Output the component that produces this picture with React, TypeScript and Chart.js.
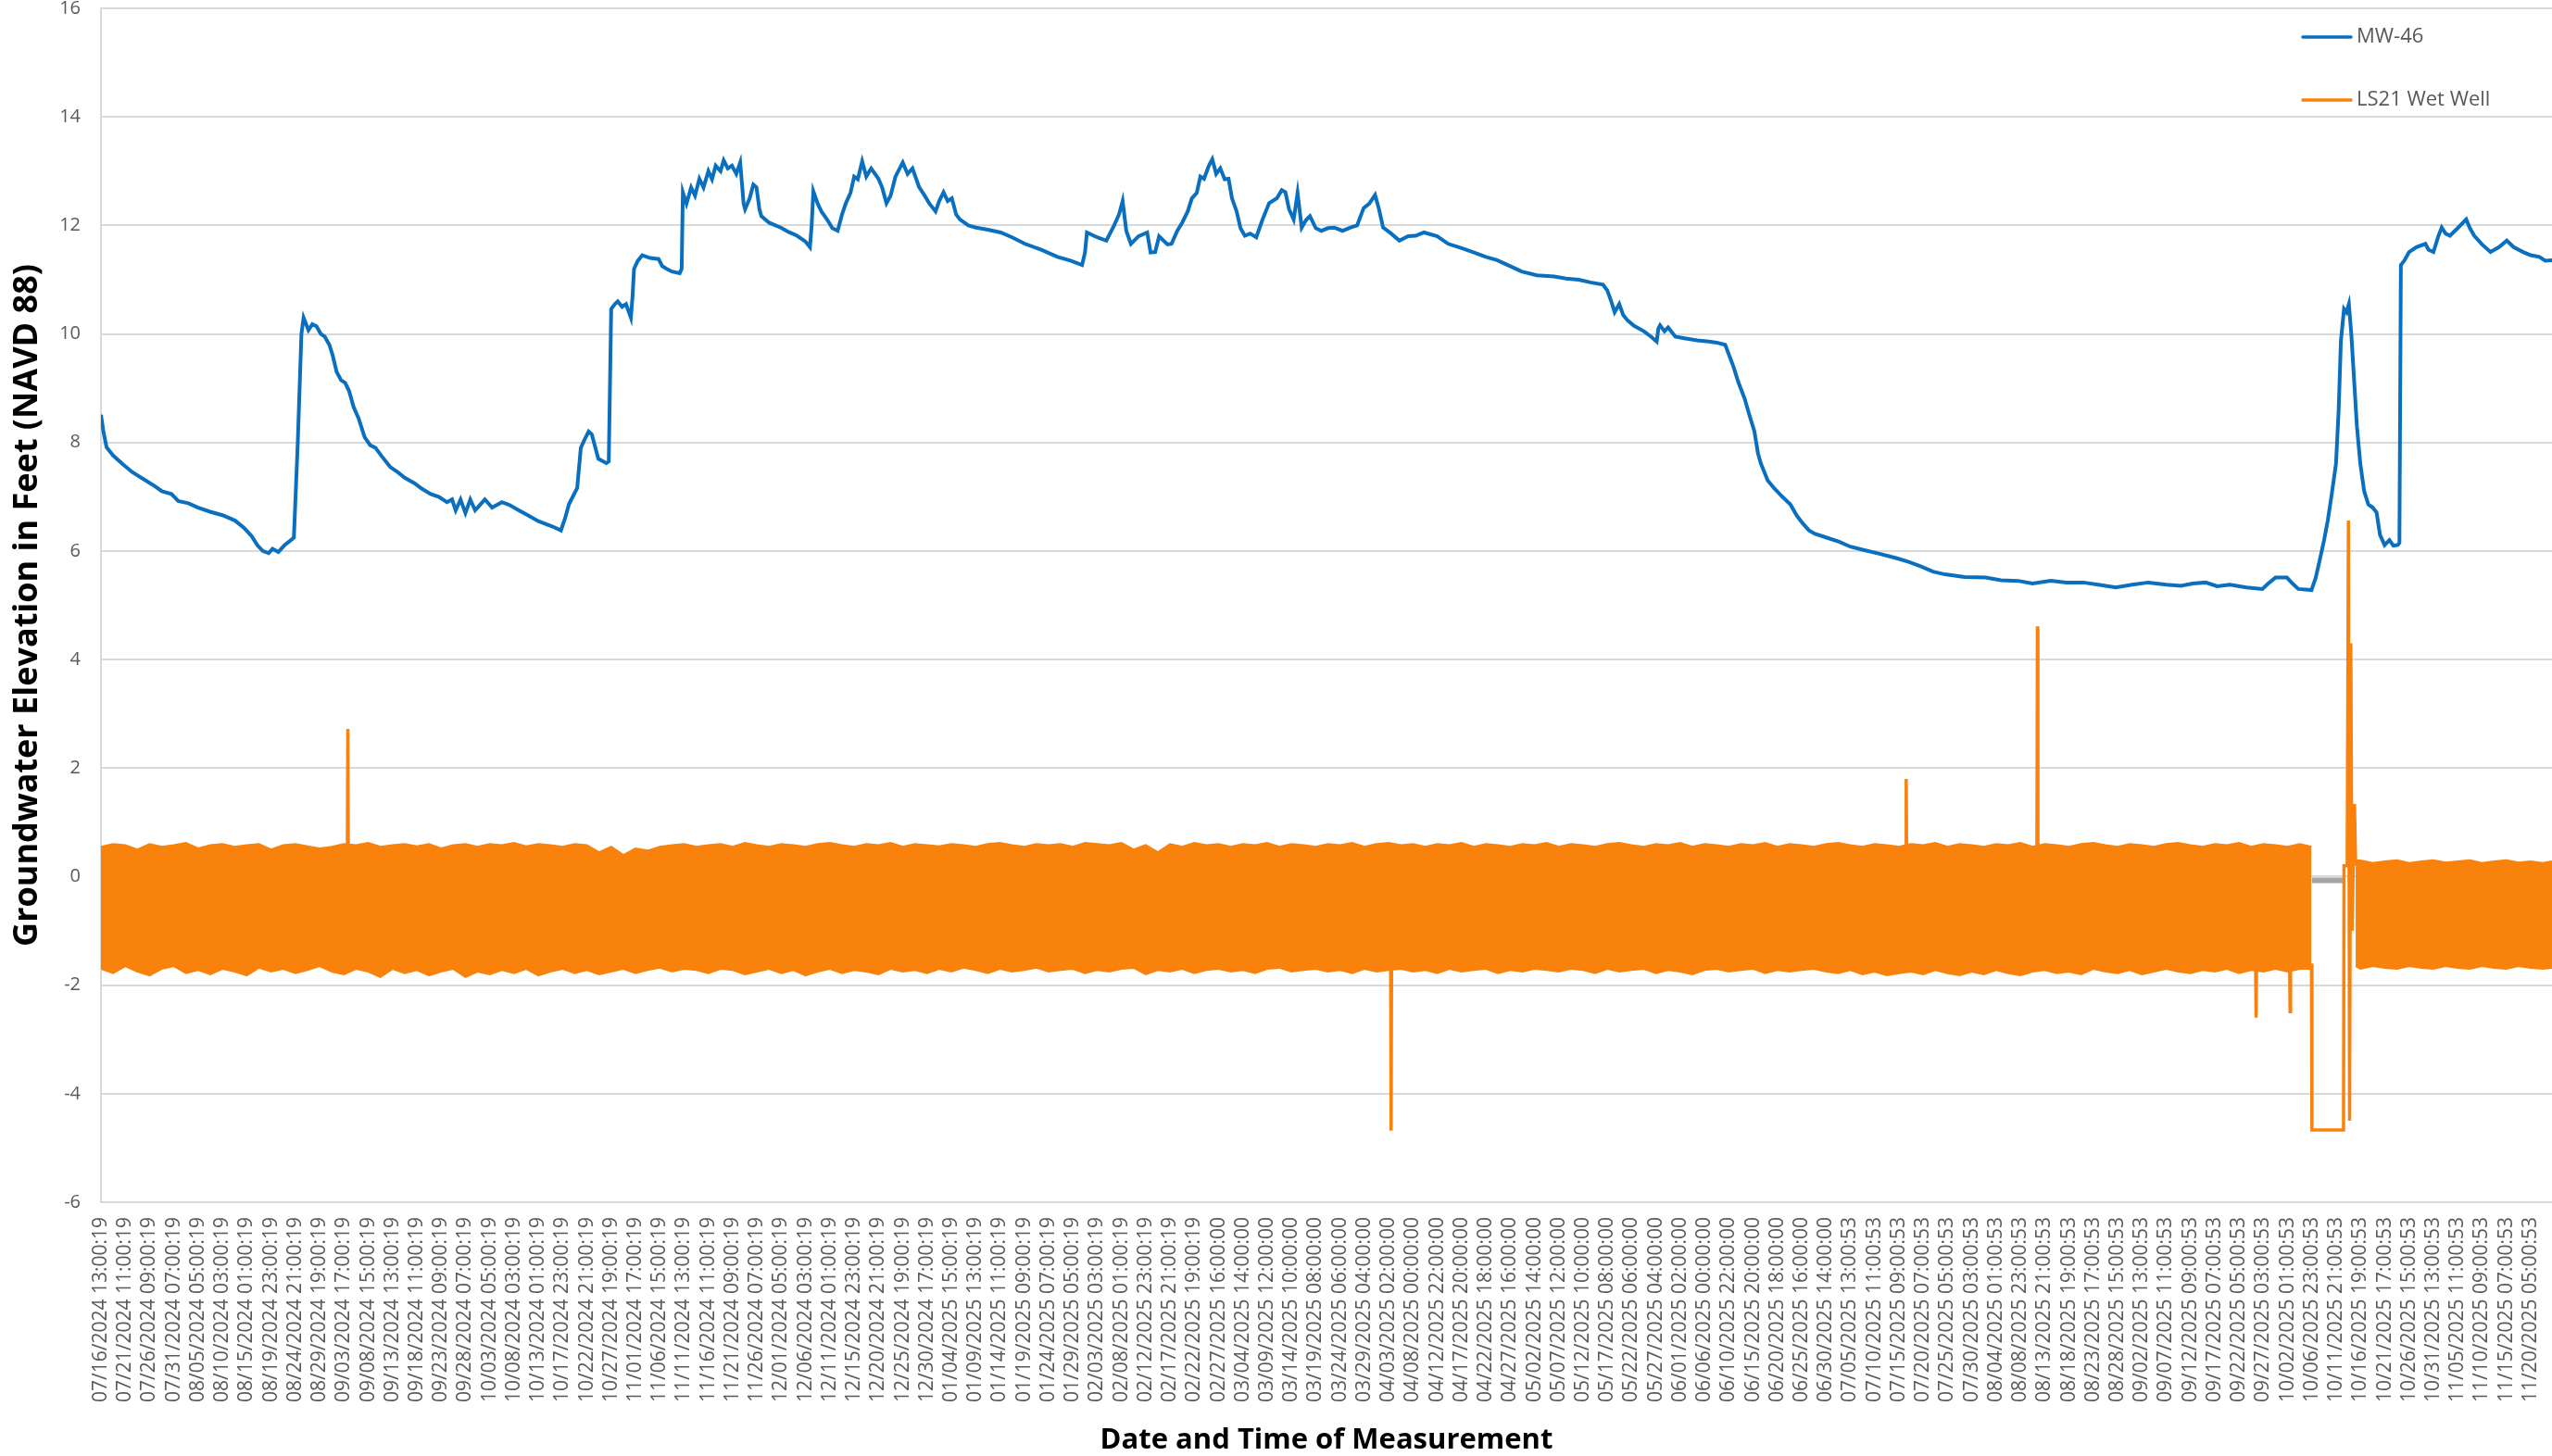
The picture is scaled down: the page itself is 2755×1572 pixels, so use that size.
import React, { useEffect, useRef } from 'react';
import { Chart, registerables } from 'chart.js';

Chart.register(...registerables);

// ---------- data ----------
const X_LABELS = [
  '07/16/2024 13:00:19', '07/21/2024 11:00:19', '07/26/2024 09:00:19', '07/31/2024 07:00:19',
  '08/05/2024 05:00:19', '08/10/2024 03:00:19', '08/15/2024 01:00:19', '08/19/2024 23:00:19',
  '08/24/2024 21:00:19', '08/29/2024 19:00:19', '09/03/2024 17:00:19', '09/08/2024 15:00:19',
  '09/13/2024 13:00:19', '09/18/2024 11:00:19', '09/23/2024 09:00:19', '09/28/2024 07:00:19',
  '10/03/2024 05:00:19', '10/08/2024 03:00:19', '10/13/2024 01:00:19', '10/17/2024 23:00:19',
  '10/22/2024 21:00:19', '10/27/2024 19:00:19', '11/01/2024 17:00:19', '11/06/2024 15:00:19',
  '11/11/2024 13:00:19', '11/16/2024 11:00:19', '11/21/2024 09:00:19', '11/26/2024 07:00:19',
  '12/01/2024 05:00:19', '12/06/2024 03:00:19', '12/11/2024 01:00:19', '12/15/2024 23:00:19',
  '12/20/2024 21:00:19', '12/25/2024 19:00:19', '12/30/2024 17:00:19', '01/04/2025 15:00:19',
  '01/09/2025 13:00:19', '01/14/2025 11:00:19', '01/19/2025 09:00:19', '01/24/2025 07:00:19',
  '01/29/2025 05:00:19', '02/03/2025 03:00:19', '02/08/2025 01:00:19', '02/12/2025 23:00:19',
  '02/17/2025 21:00:19', '02/22/2025 19:00:19', '02/27/2025 16:00:00', '03/04/2025 14:00:00',
  '03/09/2025 12:00:00', '03/14/2025 10:00:00', '03/19/2025 08:00:00', '03/24/2025 06:00:00',
  '03/29/2025 04:00:00', '04/03/2025 02:00:00', '04/08/2025 00:00:00', '04/12/2025 22:00:00',
  '04/17/2025 20:00:00', '04/22/2025 18:00:00', '04/27/2025 16:00:00', '05/02/2025 14:00:00',
  '05/07/2025 12:00:00', '05/12/2025 10:00:00', '05/17/2025 08:00:00', '05/22/2025 06:00:00',
  '05/27/2025 04:00:00', '06/01/2025 02:00:00', '06/06/2025 00:00:00', '06/10/2025 22:00:00',
  '06/15/2025 20:00:00', '06/20/2025 18:00:00', '06/25/2025 16:00:00', '06/30/2025 14:00:00',
  '07/05/2025 13:00:53', '07/10/2025 11:00:53', '07/15/2025 09:00:53', '07/20/2025 07:00:53',
  '07/25/2025 05:00:53', '07/30/2025 03:00:53', '08/04/2025 01:00:53', '08/08/2025 23:00:53',
  '08/13/2025 21:00:53', '08/18/2025 19:00:53', '08/23/2025 17:00:53', '08/28/2025 15:00:53',
  '09/02/2025 13:00:53', '09/07/2025 11:00:53', '09/12/2025 09:00:53', '09/17/2025 07:00:53',
  '09/22/2025 05:00:53', '09/27/2025 03:00:53', '10/02/2025 01:00:53', '10/06/2025 23:00:53',
  '10/11/2025 21:00:53', '10/16/2025 19:00:53', '10/21/2025 17:00:53', '10/26/2025 15:00:53',
  '10/31/2025 13:00:53', '11/05/2025 11:00:53', '11/10/2025 09:00:53', '11/15/2025 07:00:53',
  '11/20/2025 05:00:53',
];
// positions along the time axis are in units of label intervals (118 hourly readings each)
const X_END = 100.88;

const Y_MIN = -6;
const Y_MAX = 16;
const Y_STEP = 2;

// MW-46 readings: [position, elevation ft]
const MW46_READINGS: [number, number][] = [
  [0, 8.51], [0.1, 8.2], [0.23, 7.91], [0.5, 7.76], [0.9, 7.6], [1.3, 7.45], [1.84, 7.3], [2.2, 7.2],
  [2.51, 7.1], [2.9, 7.05], [3.18, 6.92], [3.6, 6.88], [4.0, 6.8], [4.52, 6.72], [5.0, 6.66], [5.52, 6.56],
  [5.9, 6.42], [6.19, 6.28], [6.45, 6.1], [6.66, 6.0], [6.9, 5.96], [7.06, 6.04], [7.3, 5.98], [7.54, 6.1],
  [7.87, 6.22], [7.94, 6.25],
  [8.1, 8.0], [8.25, 10.0], [8.34, 10.3], [8.54, 10.07], [8.7, 10.18], [8.87, 10.14], [9.05, 10.0], [9.21, 9.95],
  [9.4, 9.8], [9.54, 9.6], [9.7, 9.3], [9.88, 9.15], [10.05, 9.1], [10.21, 8.95], [10.4, 8.65], [10.6, 8.45],
  [10.85, 8.1], [11.08, 7.95], [11.3, 7.9], [11.55, 7.75], [11.9, 7.55], [12.22, 7.45], [12.5, 7.35], [12.9, 7.25],
  [13.2, 7.15], [13.57, 7.05], [13.9, 7.0], [14.24, 6.9], [14.45, 6.95], [14.6, 6.75], [14.8, 6.95], [15.0, 6.7],
  [15.2, 6.95], [15.4, 6.75], [15.6, 6.85], [15.8, 6.95], [16.1, 6.8], [16.5, 6.9], [16.8, 6.85], [17.2, 6.75],
  [17.6, 6.65], [18.0, 6.55], [18.59, 6.45], [18.93, 6.38],
  [19.1, 6.6], [19.26, 6.86], [19.6, 7.16], [19.75, 7.9], [19.9, 8.05], [20.07, 8.2], [20.2, 8.15], [20.35, 7.9],
  [20.47, 7.7], [20.8, 7.62], [20.9, 7.65],
  [21.0, 10.46], [21.15, 10.55], [21.27, 10.6], [21.45, 10.5], [21.61, 10.55], [21.81, 10.3], [21.88, 10.7],
  [21.94, 11.2], [22.1, 11.35], [22.28, 11.45], [22.6, 11.4], [22.95, 11.38], [23.1, 11.25], [23.28, 11.2],
  [23.5, 11.15], [23.82, 11.12],
  [23.9, 11.2], [23.95, 12.61], [24.1, 12.4], [24.29, 12.7], [24.45, 12.55], [24.63, 12.86], [24.8, 12.7],
  [25.0, 13.0], [25.15, 12.85], [25.3, 13.1], [25.5, 13.0], [25.63, 13.2], [25.8, 13.05], [25.97, 13.1],
  [26.15, 12.95], [26.31, 13.16], [26.45, 12.4], [26.51, 12.3], [26.7, 12.5], [26.85, 12.75], [26.98, 12.7],
  [27.1, 12.3], [27.18, 12.17], [27.5, 12.05], [27.98, 11.96], [28.3, 11.88], [28.65, 11.81], [29.0, 11.7],
  [29.18, 11.6],
  [29.25, 12.0], [29.32, 12.63], [29.5, 12.4], [29.65, 12.26], [29.9, 12.1], [30.1, 11.95], [30.32, 11.9],
  [30.5, 12.2], [30.66, 12.41], [30.85, 12.6], [31.0, 12.9], [31.15, 12.85], [31.33, 13.18], [31.5, 12.9],
  [31.7, 13.05], [32.0, 12.86], [32.15, 12.7], [32.33, 12.41], [32.5, 12.55], [32.7, 12.9], [33.0, 13.16],
  [33.2, 12.95], [33.4, 13.05], [33.67, 12.71], [33.9, 12.55], [34.1, 12.4], [34.35, 12.26], [34.5, 12.45],
  [34.68, 12.61], [34.85, 12.45], [35.02, 12.5], [35.2, 12.2], [35.35, 12.11], [35.7, 12.0], [36.02, 11.96],
  [36.5, 11.92], [37.03, 11.87], [37.5, 11.78], [38.03, 11.66], [38.7, 11.55], [39.37, 11.42], [39.9, 11.35],
  [40.38, 11.27],
  [40.5, 11.5], [40.58, 11.87], [41.0, 11.78], [41.38, 11.72], [41.7, 12.0], [41.9, 12.2], [42.05, 12.45],
  [42.2, 11.9], [42.39, 11.66], [42.7, 11.8], [43.06, 11.87], [43.2, 11.5], [43.39, 11.51], [43.55, 11.8],
  [43.73, 11.72], [43.9, 11.65], [44.06, 11.66], [44.3, 11.9], [44.5, 12.05], [44.73, 12.26], [44.9, 12.5],
  [45.1, 12.6], [45.25, 12.9], [45.4, 12.86], [45.6, 13.1], [45.74, 13.22], [45.9, 12.95], [46.07, 13.05],
  [46.25, 12.85], [46.41, 12.86], [46.55, 12.5], [46.74, 12.26], [46.9, 11.95], [47.08, 11.81], [47.3, 11.85],
  [47.55, 11.78], [47.8, 12.1], [48.08, 12.41], [48.4, 12.5], [48.6, 12.65], [48.75, 12.61], [48.9, 12.3],
  [49.09, 12.11], [49.25, 12.6], [49.42, 11.96], [49.6, 12.1], [49.76, 12.17], [50.0, 11.95], [50.23, 11.9],
  [50.5, 11.95], [50.76, 11.96], [51.1, 11.9], [51.43, 11.96], [51.7, 12.0], [51.97, 12.32], [52.2, 12.4],
  [52.44, 12.56], [52.6, 12.3], [52.77, 11.96], [53.1, 11.85], [53.44, 11.72], [53.8, 11.8], [54.11, 11.81],
  [54.45, 11.87], [55.0, 11.8], [55.45, 11.66], [56.0, 11.58], [56.46, 11.51], [57.0, 11.42], [57.46, 11.36],
  [58.0, 11.25], [58.47, 11.15], [59.1, 11.08], [59.81, 11.06], [60.3, 11.02], [60.82, 11.0], [61.3, 10.95],
  [61.82, 10.91],
  [62.0, 10.8], [62.16, 10.6], [62.3, 10.4], [62.49, 10.55], [62.65, 10.35], [62.83, 10.25], [63.1, 10.15],
  [63.5, 10.05], [63.8, 9.95], [64.03, 9.86], [64.1, 10.1], [64.17, 10.16], [64.35, 10.05], [64.5, 10.12],
  [64.8, 9.95], [65.17, 9.92], [65.7, 9.88], [66.18, 9.86], [66.5, 9.84], [66.85, 9.8],
  [67.18, 9.41], [67.4, 9.1], [67.65, 8.81], [67.85, 8.5], [68.05, 8.21], [68.2, 7.8], [68.32, 7.61], [68.6, 7.3],
  [68.86, 7.16], [69.2, 7.0], [69.53, 6.86], [69.8, 6.65], [70.06, 6.5], [70.3, 6.38], [70.53, 6.32], [71.0, 6.25],
  [71.54, 6.17], [72.0, 6.08], [72.54, 6.02], [73.2, 5.95], [73.88, 5.87], [74.4, 5.8], [74.89, 5.72], [75.4, 5.62],
  [75.89, 5.57], [76.7, 5.52], [77.57, 5.51], [78.2, 5.46], [78.91, 5.45], [79.5, 5.4], [80.25, 5.45], [80.9, 5.42],
  [81.59, 5.42], [82.2, 5.38], [82.93, 5.33], [83.6, 5.38], [84.27, 5.42], [85.0, 5.38], [85.61, 5.36], [86.1, 5.4],
  [86.62, 5.42], [87.1, 5.35], [87.62, 5.38], [88.3, 5.33], [88.96, 5.3], [89.2, 5.4], [89.5, 5.51], [89.97, 5.51],
  [90.2, 5.4], [90.44, 5.3], [90.98, 5.28],
  [91.15, 5.5], [91.31, 5.81], [91.5, 6.2], [91.65, 6.56], [91.8, 7.0], [91.99, 7.61], [92.1, 8.6], [92.19, 9.86],
  [92.32, 10.46], [92.42, 10.4], [92.52, 10.55], [92.62, 10.0], [92.72, 9.26], [92.85, 8.3], [92.99, 7.61],
  [93.15, 7.1], [93.32, 6.86], [93.5, 6.8], [93.66, 6.71], [93.8, 6.3], [93.99, 6.11], [94.19, 6.2], [94.35, 6.1],
  [94.53, 6.11], [94.6, 6.15],
  [94.66, 11.27], [94.8, 11.35], [95.0, 11.51], [95.3, 11.6], [95.67, 11.66], [95.8, 11.55], [96.0, 11.51],
  [96.2, 11.8], [96.34, 11.96], [96.5, 11.85], [96.68, 11.81], [97.0, 11.95], [97.35, 12.11], [97.5, 11.95],
  [97.68, 11.81], [98.0, 11.65], [98.35, 11.51], [98.7, 11.6], [99.02, 11.72], [99.3, 11.6], [99.69, 11.51],
  [100.0, 11.45], [100.36, 11.42], [100.6, 11.35], [100.89, 11.36],
];

// LS21 Wet Well: envelope of the dense hourly pump-cycle oscillation [position, upper ft, lower ft]
// (null = no cycling while the well was drawn down)
const LS21_BAND: [number, number | null, number | null][] = [
  [0, 0.55, -1.7], [0.5, 0.6, -1.78], [1, 0.58, -1.65], [1.5, 0.5, -1.75], [2, 0.6, -1.82], [2.5, 0.55, -1.7],
  [3, 0.58, -1.65], [3.5, 0.62, -1.78], [4, 0.52, -1.72], [4.5, 0.58, -1.8],
  [5, 0.6, -1.7], [5.5, 0.55, -1.75], [6, 0.58, -1.82], [6.5, 0.6, -1.68], [7, 0.5, -1.75], [7.5, 0.58, -1.7],
  [8, 0.6, -1.78], [8.5, 0.56, -1.72], [9, 0.52, -1.65], [9.5, 0.55, -1.75],
  [10, 0.6, -1.8], [10.5, 0.58, -1.7], [11, 0.62, -1.75], [11.5, 0.55, -1.85], [12, 0.58, -1.7], [12.5, 0.6, -1.78],
  [13, 0.56, -1.72], [13.5, 0.6, -1.82], [14, 0.52, -1.75], [14.5, 0.58, -1.7],
  [15, 0.6, -1.85], [15.5, 0.55, -1.75], [16, 0.6, -1.8], [16.5, 0.58, -1.72], [17, 0.62, -1.78], [17.5, 0.56, -1.7],
  [18, 0.6, -1.82], [18.5, 0.58, -1.75], [19, 0.55, -1.7], [19.5, 0.6, -1.78],
  [20, 0.58, -1.72], [20.5, 0.45, -1.8], [21, 0.55, -1.75], [21.5, 0.4, -1.7], [22, 0.52, -1.78], [22.5, 0.48, -1.72],
  [23, 0.55, -1.68], [23.5, 0.58, -1.75], [24, 0.6, -1.7], [24.5, 0.55, -1.72],
  [25, 0.58, -1.78], [25.5, 0.6, -1.7], [26, 0.55, -1.72], [26.5, 0.62, -1.8], [27, 0.58, -1.75], [27.5, 0.55, -1.7],
  [28, 0.6, -1.78], [28.5, 0.58, -1.72], [29, 0.55, -1.82], [29.5, 0.6, -1.75],
  [30, 0.62, -1.7], [30.5, 0.58, -1.78], [31, 0.55, -1.72], [31.5, 0.6, -1.75], [32, 0.58, -1.8], [32.5, 0.62, -1.7],
  [33, 0.55, -1.75], [33.5, 0.6, -1.72], [34, 0.58, -1.78], [34.5, 0.56, -1.7],
  [35, 0.6, -1.75], [35.5, 0.58, -1.68], [36, 0.55, -1.72], [36.5, 0.6, -1.78], [37, 0.62, -1.7], [37.5, 0.58, -1.75],
  [38, 0.55, -1.72], [38.5, 0.6, -1.68], [39, 0.58, -1.75], [39.5, 0.6, -1.72],
  [40, 0.55, -1.7], [40.5, 0.62, -1.78], [41, 0.6, -1.72], [41.5, 0.58, -1.75], [42, 0.62, -1.7], [42.5, 0.5, -1.68],
  [43, 0.58, -1.8], [43.5, 0.45, -1.72], [44, 0.6, -1.75], [44.5, 0.55, -1.7],
  [45, 0.62, -1.78], [45.5, 0.58, -1.72], [46, 0.6, -1.7], [46.5, 0.55, -1.75], [47, 0.6, -1.72], [47.5, 0.58, -1.78],
  [48, 0.62, -1.7], [48.5, 0.55, -1.68], [49, 0.6, -1.75], [49.5, 0.58, -1.72],
  [50, 0.55, -1.7], [50.5, 0.6, -1.75], [51, 0.58, -1.72], [51.5, 0.62, -1.78], [52, 0.55, -1.7], [52.5, 0.6, -1.75],
  [53, 0.62, -1.72], [53.5, 0.58, -1.7], [54, 0.6, -1.75], [54.5, 0.55, -1.72],
  [55, 0.6, -1.78], [55.5, 0.58, -1.7], [56, 0.62, -1.75], [56.5, 0.55, -1.72], [57, 0.6, -1.7], [57.5, 0.58, -1.78],
  [58, 0.55, -1.72], [58.5, 0.6, -1.75], [59, 0.58, -1.7], [59.5, 0.62, -1.72],
  [60, 0.55, -1.75], [60.5, 0.6, -1.7], [61, 0.58, -1.72], [61.5, 0.55, -1.78], [62, 0.6, -1.7], [62.5, 0.62, -1.75],
  [63, 0.58, -1.72], [63.5, 0.55, -1.7], [64, 0.6, -1.78], [64.5, 0.58, -1.72],
  [65, 0.62, -1.75], [65.5, 0.55, -1.8], [66, 0.6, -1.72], [66.5, 0.58, -1.7], [67, 0.55, -1.75], [67.5, 0.6, -1.72],
  [68, 0.58, -1.7], [68.5, 0.62, -1.78], [69, 0.55, -1.72], [69.5, 0.6, -1.75],
  [70, 0.58, -1.72], [70.5, 0.55, -1.7], [71, 0.6, -1.75], [71.5, 0.62, -1.78], [72, 0.58, -1.72], [72.5, 0.55, -1.8],
  [73, 0.6, -1.75], [73.5, 0.58, -1.82], [74, 0.55, -1.78], [74.5, 0.6, -1.75],
  [75, 0.58, -1.8], [75.5, 0.62, -1.72], [76, 0.55, -1.78], [76.5, 0.6, -1.82], [77, 0.58, -1.75], [77.5, 0.55, -1.8],
  [78, 0.6, -1.72], [78.5, 0.58, -1.78], [79, 0.62, -1.82], [79.5, 0.55, -1.75],
  [80, 0.6, -1.72], [80.5, 0.58, -1.78], [81, 0.55, -1.75], [81.5, 0.6, -1.8], [82, 0.62, -1.7], [82.5, 0.58, -1.75],
  [83, 0.55, -1.78], [83.5, 0.6, -1.72], [84, 0.58, -1.8], [84.5, 0.55, -1.75],
  [85, 0.6, -1.7], [85.5, 0.62, -1.75], [86, 0.58, -1.78], [86.5, 0.55, -1.72], [87, 0.6, -1.75], [87.5, 0.58, -1.7],
  [88, 0.62, -1.78], [88.5, 0.55, -1.72], [89, 0.6, -1.75], [89.5, 0.58, -1.7],
  [90, 0.55, -1.75], [90.5, 0.6, -1.7], [90.98, 0.55, -1.7], [91.5, null, null], [92.8, 0.3, -1.65],
  [93, 0.3, -1.7], [93.5, 0.25, -1.65], [94, 0.28, -1.68], [94.5, 0.3, -1.7], [95, 0.25, -1.65], [95.5, 0.28, -1.68],
  [96, 0.3, -1.7], [96.5, 0.26, -1.65], [97, 0.28, -1.68], [97.5, 0.3, -1.7], [98, 0.25, -1.65], [98.5, 0.28, -1.68],
  [99, 0.3, -1.7], [99.5, 0.26, -1.65], [100, 0.28, -1.68], [100.5, 0.25, -1.7], [100.88, 0.28, -1.68],
];

// isolated excursions of the wet well level (null = break)
const LS21_SPIKE_X = [
  10.14, 10.16, 10.18, null, 53.08, 53.1, 53.12, null, 74.28, 74.3, 74.32, null, 79.68, 79.7, 79.72, null,
  88.68, 88.7, 88.72, null, 90.08, 90.1, 90.12, null,
  90.98, 91.0, 92.3, 92.32, 92.45, 92.5, 92.55, 92.6, 92.65, 92.75, 92.8,
];
const LS21_SPIKE_Y = [
  0.4, 2.72, 0.4, null, -1.5, -4.68, -1.5, null, 0.4, 1.8, 0.4, null, 0.4, 4.61, 0.4, null,
  -1.6, -2.6, -1.6, null, -1.6, -2.49, -1.6, null,
  -1.6, -4.67, -4.67, 0.2, 0.2, 6.56, -4.5, 4.3, -1.0, 1.34, 0.2,
];
const GRAY_X = [91.0, 92.3];
const GRAY_Y = [-0.07, -0.07];

const LEGEND_LABELS = ['MW-46', 'LS21 Wet Well'];

// ---------- styles ----------
const BLUE = '#0A6FBE';
const ORANGE = '#F8820C';
const GRAY = '#A5A5A5';
const GRID = '#D9D9D9';
const TEXT = '#595959';
const FONT = '"Open Sans", "DejaVu Sans", sans-serif';

const zip = (xs: (number | null)[], ys: (number | null)[]) =>
  xs.map((x, i) => ({ x: x === null ? NaN : x, y: ys[i] === null || x === null ? null : ys[i] }));

export default function App() {
  const ref = useRef<HTMLCanvasElement>(null);

  useEffect(() => {
    const canvas = ref.current;
    if (!canvas) return;

    const legendPlugin = {
      id: 'cornerLegend',
      afterDraw(chart: any) {
        const { ctx, chartArea } = chart;
        const colors = [BLUE, ORANGE];
        ctx.save();
        LEGEND_LABELS.forEach((label, k) => {
          const y = chartArea.top + 31 + k * 68;
          const x0 = chartArea.right - 269;
          ctx.strokeStyle = colors[k];
          ctx.lineWidth = 3.5;
          ctx.lineCap = 'round';
          ctx.beginPath();
          ctx.moveTo(x0, y);
          ctx.lineTo(x0 + 52, y);
          ctx.stroke();
          ctx.fillStyle = TEXT;
          ctx.font = `22px ${FONT}`;
          ctx.textBaseline = 'middle';
          ctx.textAlign = 'left';
          ctx.fillText(label, x0 + 58, y);
        });
        ctx.restore();
      },
    };

    const chart = new Chart(canvas, {
      type: 'line',
      data: {
        datasets: [
          {
            label: 'MW-46',
            data: MW46_READINGS.map(([x, y]) => ({ x, y })),
            borderColor: BLUE,
            borderWidth: 4,
            pointRadius: 0,
            tension: 0,
            fill: false,
          },
          {
            label: 'LS21 Wet Well spikes',
            data: zip(LS21_SPIKE_X, LS21_SPIKE_Y),
            borderColor: ORANGE,
            borderWidth: 3.5,
            pointRadius: 0,
            tension: 0,
            spanGaps: false,
            fill: false,
          },
          {
            label: 'LS21 Wet Well',
            data: LS21_BAND.map(([x, u]) => ({ x, y: u })),
            borderColor: ORANGE,
            backgroundColor: ORANGE,
            borderWidth: 2,
            pointRadius: 0,
            tension: 0,
            spanGaps: false,
            fill: false,
          },
          {
            label: 'LS21 Wet Well low',
            data: LS21_BAND.map(([x, , l]) => ({ x, y: l })),
            borderColor: ORANGE,
            backgroundColor: ORANGE,
            borderWidth: 2,
            pointRadius: 0,
            tension: 0,
            spanGaps: false,
            fill: '-1',
          },
          {
            label: 'gray',
            data: zip(GRAY_X, GRAY_Y),
            borderColor: GRAY,
            borderWidth: 6,
            pointRadius: 0,
            fill: false,
          },
        ],
      },
      options: {
        responsive: false,
        animation: false,
        devicePixelRatio: 1,
        layout: { padding: 0 },
        plugins: {
          legend: { display: false },
          tooltip: { enabled: false },
          title: { display: false },
        },
        scales: {
          x: {
            type: 'linear',
            min: 0,
            max: X_END,
            afterBuildTicks: (s: any) => {
              s.ticks = X_LABELS.map((_, i) => ({ value: i }));
            },
            afterFit: (s: any) => {
              s.height = 274;
            },
            ticks: {
              autoSkip: false,
              maxRotation: 90,
              minRotation: 90,
              padding: 0,
              color: TEXT,
              font: { family: FONT, size: 21, lineHeight: 1 },
              callback: (_v: any, i: number) => X_LABELS[i] ?? '',
            },
            grid: {
              display: true,
              drawOnChartArea: false,
              drawTicks: true,
              tickLength: 16,
              tickColor: 'rgba(0,0,0,0)',
            },
            border: { display: true, color: GRID, width: 2 },
            title: {
              display: true,
              text: 'Date and Time of Measurement',
              color: '#000000',
              font: { family: FONT, size: 31, weight: 'bold', lineHeight: 1 },
              padding: { top: 0, bottom: 1 },
            },
          },
          y: {
            type: 'linear',
            min: Y_MIN,
            max: Y_MAX,
            afterFit: (s: any) => {
              s.width = 109;
            },
            ticks: {
              stepSize: Y_STEP,
              padding: 0,
              color: TEXT,
              font: { family: FONT, size: 20, lineHeight: 0.9 },
            },
            grid: {
              color: GRID,
              lineWidth: 2,
              drawTicks: true,
              tickLength: 22,
              tickColor: 'rgba(0,0,0,0)',
            },
            border: { display: true, color: GRID, width: 2 },
            title: {
              display: true,
              text: 'Groundwater Elevation in Feet (NAVD 88)',
              color: '#000000',
              font: { family: FONT, size: 36, weight: 'bold', lineHeight: 1 },
              padding: { top: 12, bottom: 0 },
            },
          },
        },
      },
      plugins: [legendPlugin],
    } as any);

    return () => chart.destroy();
  }, []);

  return (
    <div style={{ position: 'absolute', left: 0, top: 0, width: 2755, height: 1572, background: '#fff' }}>
      <canvas ref={ref} width={2755} height={1572} style={{ display: 'block', width: 2755, height: 1572 }} />
    </div>
  );
}
